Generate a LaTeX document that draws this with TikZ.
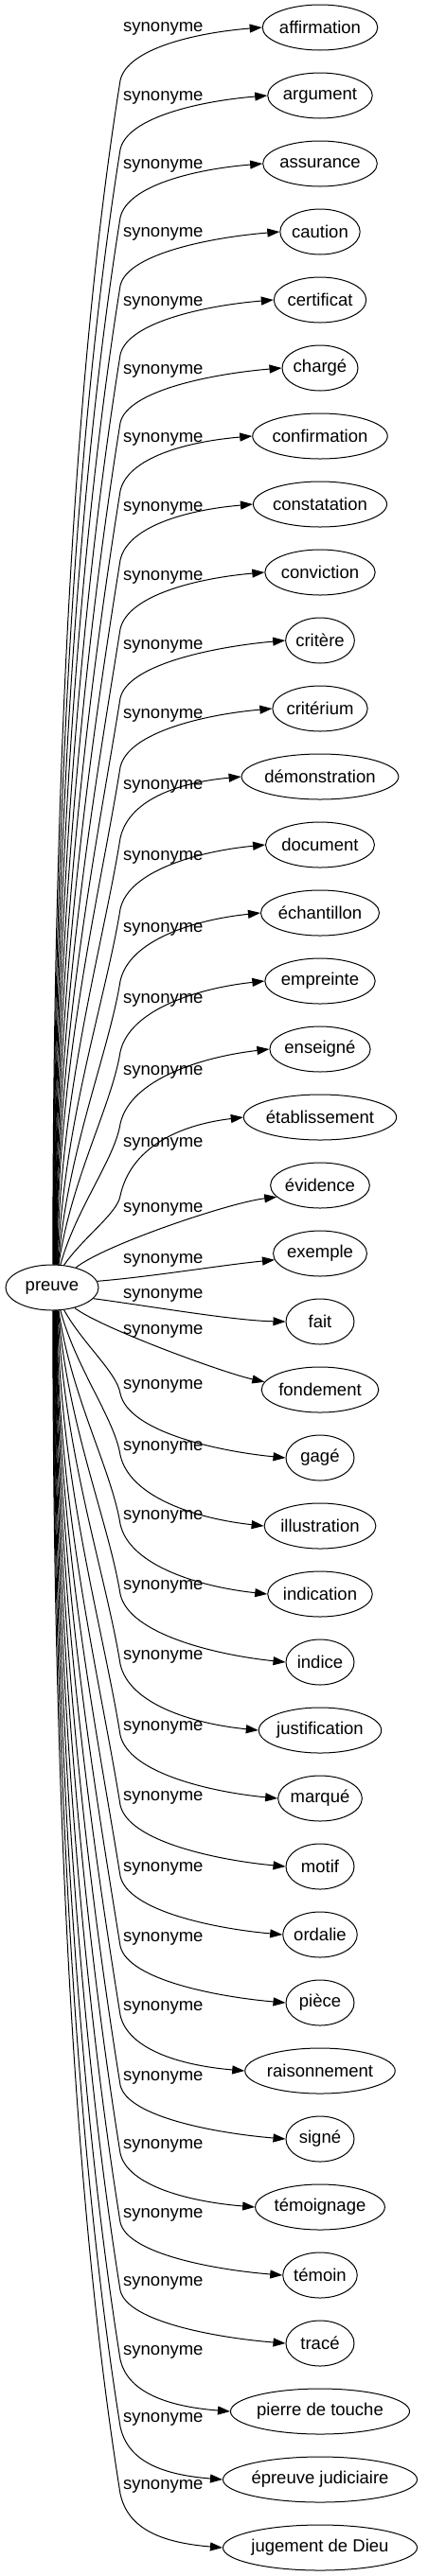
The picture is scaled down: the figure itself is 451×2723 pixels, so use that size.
\documentclass[tikz,border=0pt]{standalone}
\usepackage{fontspec}
\setmainfont{Liberation Sans}
\newfontfamily\measfont{Liberation Serif}
\usetikzlibrary{arrows.meta,shapes.geometric}
\newlength\mytw
\newcommand\mktgt[3]{%
  \settowidth\mytw{\measfont\fontsize{14pt}{16pt}\selectfont #3}%
  \pgfmathsetmacro\nw{max(72,1.885*(\mytw+14))}%
  \node[ell, minimum width=\nw pt] (#1) at (338,#2) {#3};%
}
% up edge: #1 idx, #2 angle, #3 label y, #4 target y, #5 text
\newcommand\upedge[5]{%
  \mktgt{t#1}{#4}{#5}%
  \node[lab] (l#1) at (130,#3) {synonyme};%
  \pgfmathsetmacro\eyB{#3+55}%
  \pgfmathsetmacro\eL{1338-\eyB}%
  \pgfmathsetmacro\efdx{24*max(0,1-\eL/500)}%
  \pgfmathsetmacro\ecy{-0.4*\eL}%
  \pgfmathsetmacro\ek{0.25*\eL}%
  \pgfmathsetmacro\ekx{-0.16*\ek}%
  \pgfmathsetmacro\ed{\eyB-#4}%
  \pgfmathsetmacro\eg{0.6*\ed}%
  \pgfmathsetmacro\egx{0.216*\eg}%
  \pgfmathsetmacro\etx{338-\nw/2}%
  \pgfmathsetmacro\ehx{-0.4*(\etx-127)}%
  \pgfmathsetmacro\ehy{0.1*\ed}%
  \coordinate (b#1) at (127,\eyB);%
  \draw[conn] (preuve.#2) .. controls +(\efdx,\ecy) and +(\ekx,\ek) .. (b#1)
     .. controls +(\egx,-\eg) and +(\ehx,\ehy) .. (t#1.west);%
}
\newcommand\downedge[5]{%
  \mktgt{t#1}{#4}{#5}%
  \node[lab] (l#1) at (130,#3) {synonyme};%
  \pgfmathsetmacro\eyB{#3+8}%
  \pgfmathsetmacro\eL{\eyB-1384}%
  \pgfmathsetmacro\efdx{24*max(0,1-\eL/500)}%
  \pgfmathsetmacro\ecy{0.4*\eL}%
  \pgfmathsetmacro\ek{0.25*\eL}%
  \pgfmathsetmacro\ekx{-0.16*\ek}%
  \pgfmathsetmacro\ed{#4-\eyB}%
  \pgfmathsetmacro\eg{0.6*\ed}%
  \pgfmathsetmacro\egx{0.216*\eg}%
  \pgfmathsetmacro\etx{338-\nw/2}%
  \pgfmathsetmacro\ehx{-0.4*(\etx-127)}%
  \pgfmathsetmacro\ehy{-0.1*\ed}%
  \coordinate (b#1) at (127,\eyB);%
  \draw[conn] (preuve.#2) .. controls +(\efdx,\ecy) and +(\ekx,-\ek) .. (b#1)
     .. controls +(\egx,\eg) and +(\ehx,\ehy) .. (t#1.west);%
}
\begin{document}
\begin{tikzpicture}[x=1pt,y=-1pt,
  every node/.style={font=\fontsize{18.5pt}{22pt}\selectfont},
  ell/.style={draw, ellipse, inner sep=0pt, minimum height=48pt, line width=1pt},
  lab/.style={anchor=west, inner sep=0pt},
  conn/.style={draw, line width=1pt, -{Triangle[length=13pt,width=9pt]}}]
\useasboundingbox[fill=white] (0,0) rectangle (451,2723);
\node[ell, minimum width=98pt] (preuve) at (55,1361) {preuve};
\upedge{0}{88}{30}{29}{affirmation}
\upedge{1}{87}{103}{101}{argument}
\upedge{2}{86}{175}{173}{assurance}
\upedge{3}{85}{247}{245}{caution}
\upedge{4}{84}{320}{317}{certificat}
\upedge{5}{83}{392}{389}{chargé}
\upedge{6}{82}{464}{461}{confirmation}
\upedge{7}{81}{537}{533}{constatation}
\upedge{8}{80}{610}{605}{conviction}
\upedge{9}{79}{683}{677}{critère}
\upedge{10}{78}{756}{749}{critérium}
\upedge{11}{77}{831}{821}{démonstration}
\upedge{12}{76}{906}{893}{document}
\upedge{13}{75}{982}{965}{échantillon}
\upedge{14}{74}{1057}{1037}{empreinte}
\upedge{15}{70}{1133}{1109}{enseigné}
\upedge{16}{62}{1209}{1181}{établissement}
% middle
\mktgt{t17}{1253}{évidence}
\node[lab] (l17) at (130,1278) {synonyme};
\draw[conn] (preuve.40) .. controls +(30,-24) and +(-50,6) .. (t17.195);
\mktgt{t18}{1325}{exemple}
\node[lab] (l18) at (130,1332) {synonyme};
\draw[conn] (preuve.8) .. controls +(60,-5) and +(-60,6) .. (t18.188);
\mktgt{t19}{1397}{fait}
\node[lab] (l19) at (130,1369) {synonyme};
\draw[conn] (preuve.-15) .. controls +(60,8) and +(-55,-1) .. (t19.west);
\mktgt{t20}{1469}{fondement}
\node[lab] (l20) at (130,1407) {synonyme};
\draw[conn] (preuve.-42) .. controls +(25,20) and +(-45,-10) .. (t20.172);
% lower
\downedge{21}{-62}{1465}{1541}{gagé}
\downedge{22}{-70}{1530}{1613}{illustration}
\downedge{23}{-74}{1603}{1685}{indication}
\downedge{24}{-75}{1677}{1757}{indice}
\downedge{25}{-76}{1751}{1829}{justification}
\downedge{26}{-77}{1826}{1901}{marqué}
\downedge{27}{-78}{1900}{1973}{motif}
\downedge{28}{-79}{1975}{2045}{ordalie}
\downedge{29}{-80}{2049}{2117}{pièce}
\downedge{30}{-81}{2122}{2189}{raisonnement}
\downedge{31}{-82}{2196}{2261}{signé}
\downedge{32}{-83}{2268}{2333}{témoignage}
\downedge{33}{-84}{2341}{2405}{témoin}
\downedge{34}{-85}{2413}{2477}{tracé}
\downedge{35}{-86}{2486}{2549}{pierre de touche}
\downedge{36}{-87}{2557}{2621}{épreuve judiciaire}
\downedge{37}{-88}{2628}{2693}{jugement de Dieu}
\end{tikzpicture}
\end{document}
